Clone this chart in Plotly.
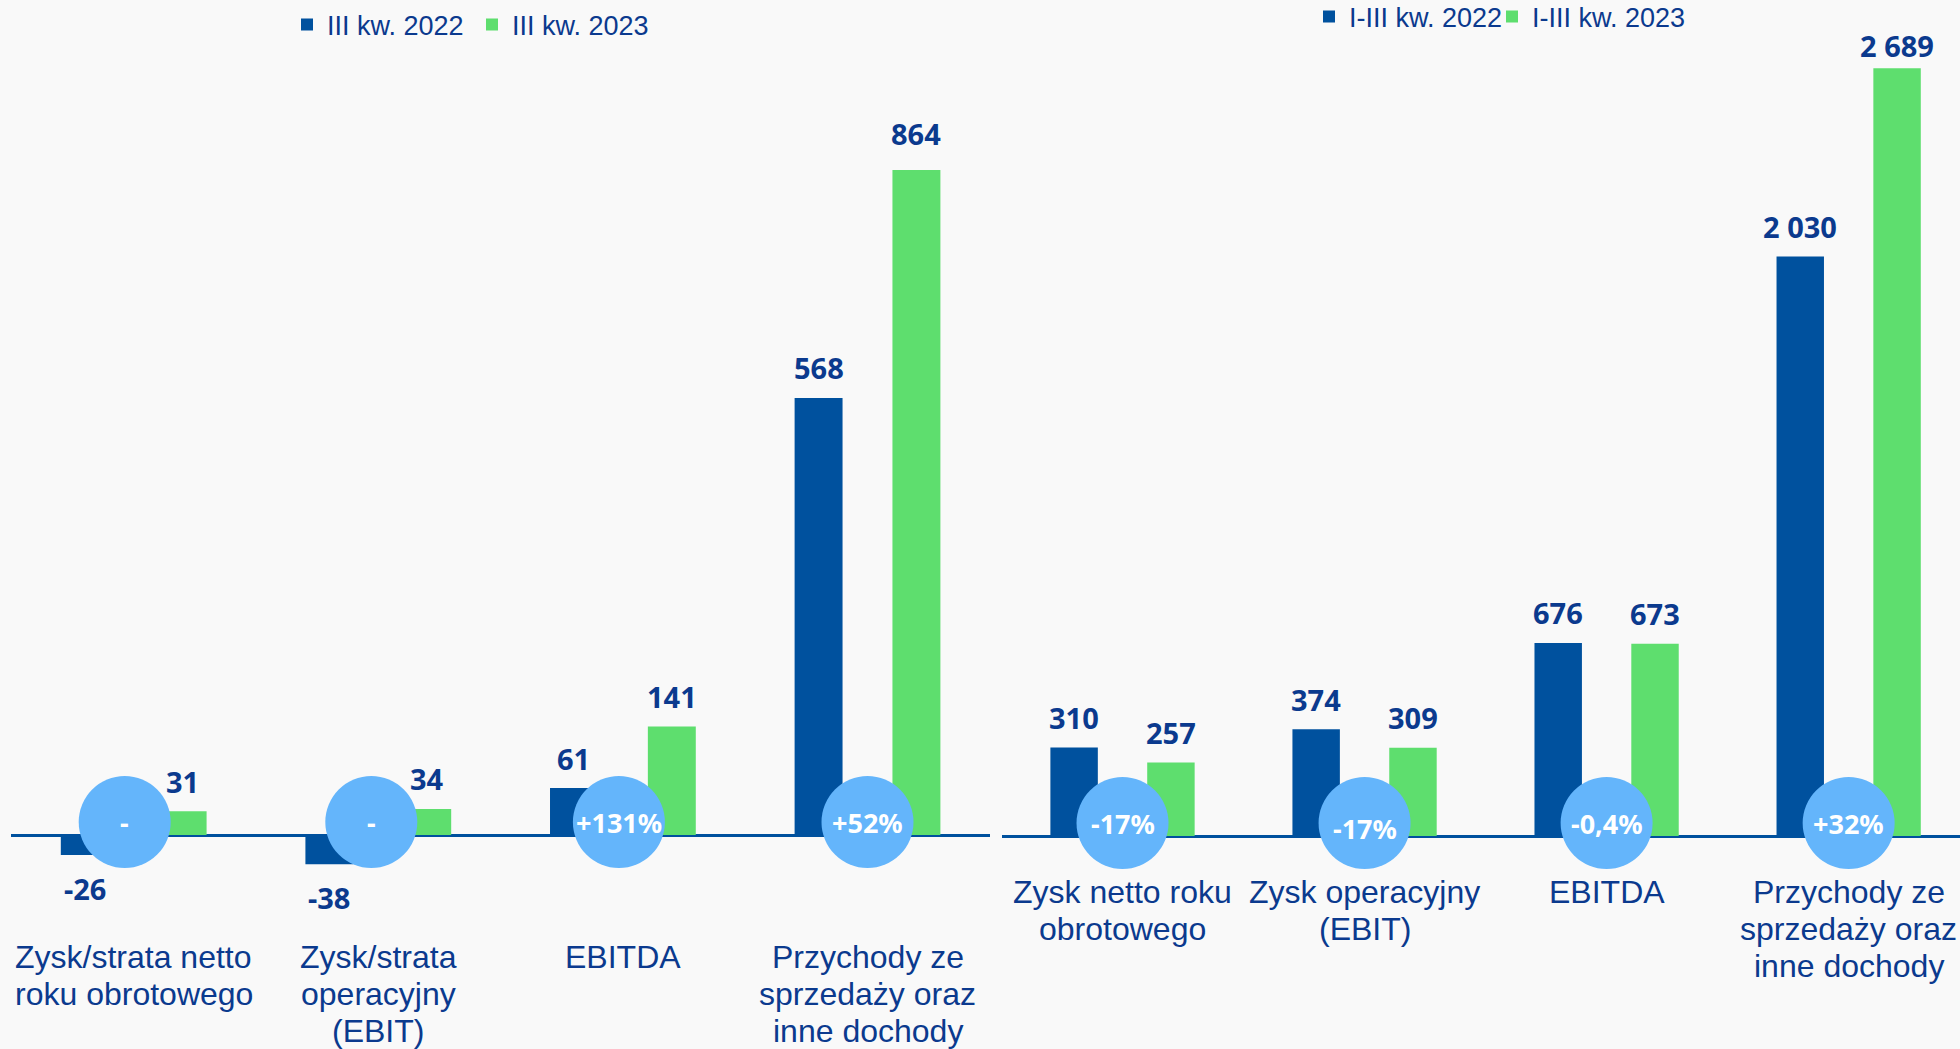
import plotly.graph_objects as go

W, H = 1960, 1049

# left panel: III quarter
left_categories = ["Zysk/strata netto<br>roku obrotowego", "Zysk/strata<br>operacyjny<br>(EBIT)",
                   "EBITDA", "Przychody ze<br>sprzedaży oraz<br>inne dochody"]
left_series = ["III kw. 2022", "III kw. 2023"]
left_2022 = [-26, -38, 61, 568]
left_2023 = [31, 34, 141, 864]
left_change = ["-", "-", "+131%", "+52%"]

# right panel: I-III quarter
right_categories = ["Zysk netto roku<br>obrotowego", "Zysk operacyjny<br>(EBIT)",
                    "EBITDA", "Przychody ze<br>sprzedaży oraz<br>inne dochody"]
right_series = ["I-III kw. 2022", "I-III kw. 2023"]
right_2022 = [310, 374, 676, 2030]
right_2023 = [257, 309, 673, 2689]
right_change = ["-17%", "-17%", "-0,4%", "+32%"]

BLUE = "#00519E"
GREEN = "#5EDE6E"
CIRCLE = "#64B5FB"
NAVY = "#0B3A8E"
BG = "#F9F9F9"
SANS = "Liberation Sans, Arial, sans-serif"
NUM = "Noto Sans, sans-serif"

# one small legend per series, so each entry can sit where the slide has it
panels = [
    dict(xa="x", ya="y", cats=left_categories, vals=[left_2022, left_2023],
         names=left_series, change=left_change, legends=["legend", "legend2"],
         legend_x=[287, 472], legend_y=25, label_px=957),
    dict(xa="x2", ya="y2", cats=right_categories, vals=[right_2022, right_2023],
         names=right_series, change=right_change, legends=["legend3", "legend4"],
         legend_x=[1309, 1492], legend_y=17, label_px=892),
]

# small hand nudges of single labels / circles (pixels), as in the original slide
label_nudge = {("x", 3, 1): 7, ("x2", 3, 1): -7}
circle_dy = {("x2", 1): -5}
circle_dx = {("x", 0): -9, ("x", 1): -7, ("x", 2): -4}


def fmt(v):
    return f"{v:,}".replace(",", " ")


fig = go.Figure()
annotations = []
shapes = []
legends = {}

legend_style = dict(orientation="h", xanchor="left", yanchor="middle", bgcolor="rgba(0,0,0,0)",
                    font=dict(family=SANS, size=27, color=NAVY), itemwidth=30, itemclick=False)

for p in panels:
    for j, (vals, name) in enumerate(zip(p["vals"], p["names"])):
        fig.add_trace(go.Bar(
            x=p["cats"], y=vals, name=name, marker=dict(color=[BLUE, GREEN][j], line_width=0),
            xaxis=p["xa"], yaxis=p["ya"], legend=p["legends"][j], hoverinfo="skip",
        ))
        legends[p["legends"][j]] = dict(legend_style, x=p["legend_x"][j] / W,
                                        y=1 - p["legend_y"] / H)
        off = -0.2 if j == 0 else 0.2
        for i, v in enumerate(vals):
            shift = 30 if v >= 0 else -33
            shift += label_nudge.get((p["xa"], i, j), 0)
            annotations.append(dict(
                x=i + off, y=v, xref=p["xa"], yref=p["ya"], text=fmt(v), showarrow=False,
                yanchor="middle", yshift=shift,
                font=dict(family=NUM, size=29, color=NAVY, weight="bold"),
            ))

    for i, (cat, ch) in enumerate(zip(p["cats"], p["change"])):
        dx = circle_dx.get((p["xa"], i), 0)
        shapes.append(dict(
            type="circle", xref=p["xa"], yref=p["ya"], xsizemode="pixel", ysizemode="pixel",
            xanchor=i, yanchor=0, x0=-46 + dx, x1=46 + dx, y0=-33, y1=59,
            fillcolor=CIRCLE, line=dict(width=0), layer="above",
        ))
        annotations.append(dict(
            x=i, y=0, xref=p["xa"], yref=p["ya"], text=ch, showarrow=False,
            yanchor="middle", xshift=dx, yshift=13 + circle_dy.get((p["xa"], i), 0),
            font=dict(family=NUM, size=27, color="white", weight="bold"),
        ))
        for k, line in enumerate(cat.split("<br>")):
            annotations.append(dict(
                x=i, y=1 - (p["label_px"] + k * 37) / H, xref=p["xa"], yref="paper",
                text=line, showarrow=False, yanchor="middle",
                font=dict(family=SANS, size=32, color=NAVY),
            ))

axis_x = dict(type="category", showticklabels=False, showgrid=False, zeroline=False,
              showline=False, ticks="")
axis_y = dict(showticklabels=False, showgrid=False, zeroline=True, zerolinecolor=BLUE,
              zerolinewidth=3, showline=False, ticks="")

fig.update_layout(
    width=W, height=H,
    margin=dict(l=0, r=0, t=0, b=0, autoexpand=False),
    paper_bgcolor=BG, plot_bgcolor=BG,
    barmode="group", bargap=0.2, bargroupgap=0.51,
    xaxis=dict(axis_x, domain=[11.4 / W, 989.8 / W], range=[-0.5, 3.5], anchor="y"),
    yaxis=dict(axis_y, domain=[0, 1], range=[-278, 1085], anchor="x"),
    xaxis2=dict(axis_x, domain=[1001.5 / W, 1], range=[-0.5, 3.46], anchor="y2"),
    yaxis2=dict(axis_y, domain=[0, 1], range=[-746, 2928], anchor="x2"),
    annotations=annotations,
    shapes=shapes,
    showlegend=True,
    **legends,
)

fig.write_html("out.html", config={"displayModeBar": False},
               post_script="document.body.style.margin='0';document.body.style.overflow='hidden';")
